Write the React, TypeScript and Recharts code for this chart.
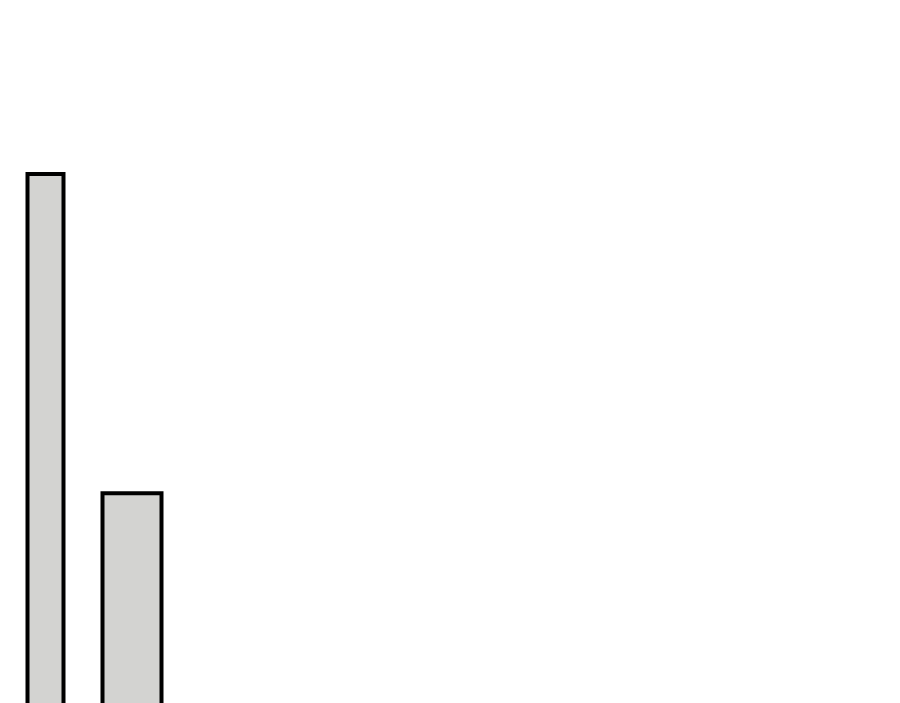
import React from "react";
import { BarChart, Bar, XAxis, YAxis } from "recharts";

// two bars, each on its own x axis so each can have its own width
const categories = ["A", "B"];
const narrowValues = [78, null];
const wideValues = [null, 32.4];

const data = categories.map((name, i) => ({
	name,
	narrow: narrowValues[i],
	wide: wideValues[i],
}));

export default function App() {
	return (
		<div
			style={{
				position: "absolute",
				top: 0,
				left: 0,
				width: 900,
				height: 703,
				overflow: "hidden",
				background: "#fff",
			}}
		>
			<BarChart
				width={900}
				height={740}
				data={data}
				margin={{ top: 20, right: 724.5, left: 1.5, bottom: 20 }}
				barCategoryGap={0}
			>
				<XAxis xAxisId="a" dataKey="name" hide />
				<XAxis xAxisId="b" dataKey="name" hide />
				<YAxis domain={[0, 100]} hide />
				<Bar
					xAxisId="a"
					dataKey="narrow"
					barSize={36}
					fill="#d3d3d1"
					stroke="#000"
					strokeWidth={4}
					isAnimationActive={false}
				/>
				<Bar
					xAxisId="b"
					dataKey="wide"
					barSize={59}
					fill="#d3d3d1"
					stroke="#000"
					strokeWidth={4}
					isAnimationActive={false}
				/>
			</BarChart>
		</div>
	);
}
